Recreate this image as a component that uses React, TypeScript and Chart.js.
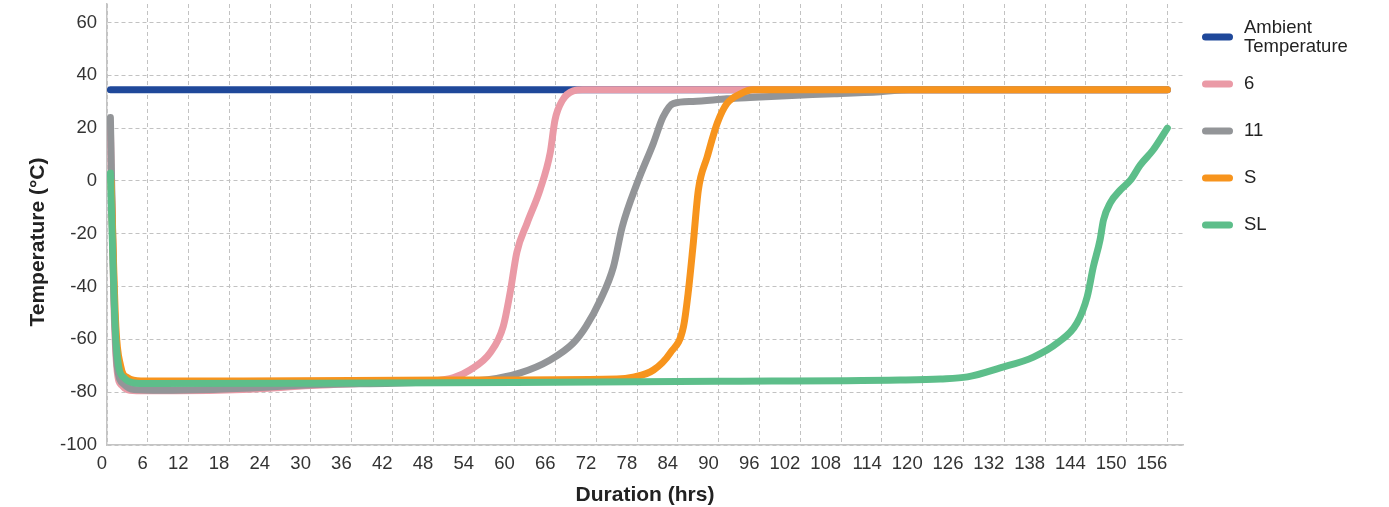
import React, { useEffect, useRef } from 'react';
import { Chart, registerables } from 'chart.js';

Chart.register(...registerables);

const FONT = '"Liberation Sans", Arial, Helvetica, sans-serif';

// ---- Axis ticks ----
const xTickValues = [0, 6, 12, 18, 24, 30, 36, 42, 48, 54, 60, 66, 72, 78, 84, 90, 96, 102, 108, 114, 120, 126, 132, 138, 144, 150, 156];
const yTickValues = [-100, -80, -60, -40, -20, 0, 20, 40, 60];
const xTitle = 'Duration (hrs)';
const yTitle = 'Temperature (°C)';

// ---- Series ----
const seriesNames = [['Ambient', 'Temperature'], ['6'], ['11'], ['S'], ['SL']];
const seriesColors = ['#1F489A', '#EA9AA6', '#939598', '#F7941D', '#5DBE8A'];

const ambientHours = [0.5, 156];
const ambientTemps = [34.5, 34.5];

const s6Hours = [0.5, 1.0, 1.5, 2.2, 3, 5, 10, 20, 30, 40, 48, 51, 53.4, 56.4, 58.3, 59.3, 60.3, 61.8, 63.7, 65.2, 65.9, 67, 68.6, 70, 156];
const s6Temps = [20, -45, -72, -77.5, -79, -79.5, -79.5, -79, -77.5, -76.5, -75.8, -74.5, -71.6, -65, -55, -42.4, -27, -16, -3.4, 10.6, 23, 30.5, 34.1, 34.5, 34.5];

const s11Hours = [0.5, 1.0, 1.5, 2.5, 4, 8, 15, 24, 30, 42, 50, 56, 60.8, 65.2, 68.6, 70.5, 72.6, 74.5, 75.8, 78, 80.4, 81.8, 83.3, 86.2, 91.2, 94.6, 100, 107, 113.8, 118, 156];
const s11Temps = [24, -40, -70, -77, -79, -79.3, -79, -78, -77.2, -76.6, -76, -75.3, -72.7, -67.8, -61.4, -55, -45, -32.6, -17.4, -0.8, 14.4, 24.2, 29.3, 30.1, 31.1, 31.6, 32.3, 33, 33.8, 34.5, 34.5];

const sHours = [0.6, 1.3, 2, 3, 5, 20, 50, 75, 77.4, 80.4, 82.9, 84.8, 85.5, 86.2, 87, 88.3, 89.8, 91.2, 93.2, 95, 156];
const sTemps = [0, -55, -70, -74.5, -75.8, -75.8, -75.4, -75, -74.3, -71.6, -65, -55.3, -42.4, -25, -3.4, 9.1, 22, 29.3, 33, 34.5, 34.5];

const slHours = [0.5, 1.2, 1.7, 2.5, 4, 6, 30, 60, 90, 116.7, 122.6, 126.6, 131.4, 136.3, 139.8, 142.7, 144.2, 145.1, 146.1, 146.6, 147.6, 149.1, 150.6, 152, 153.9, 156];
const slTemps = [3, -55, -70, -74.5, -76.5, -76.7, -76.6, -76.3, -75.9, -75.4, -75, -74.2, -70.8, -66.7, -61.4, -53.8, -43.9, -32.6, -22.3, -14.8, -8.3, -3.4, 0.4, 6, 11.7, 20];

const seriesHours = [ambientHours, s6Hours, s11Hours, sHours, slHours];
const seriesTemps = [ambientTemps, s6Temps, s11Temps, sTemps, slTemps];

const toPoints = (xs: number[], ys: number[]) => xs.map((x, i) => ({ x, y: ys[i] }));

const customPlugin = {
  id: 'customDecor',
  afterDraw(chart: any) {
    const ctx = chart.ctx;
    const area = chart.chartArea;
    ctx.save();
    // axis titles
    ctx.fillStyle = '#222222';
    ctx.font = `bold 21px ${FONT}`;
    ctx.textAlign = 'center';
    ctx.textBaseline = 'middle';
    ctx.fillText(xTitle, (area.left + area.right) / 2, 495);
    ctx.save();
    ctx.translate(38, 242);
    ctx.rotate(-Math.PI / 2);
    ctx.fillText(yTitle, 0, 0);
    ctx.restore();

    // legend
    const swX0 = 1205.5;
    const swX1 = 1229.5;
    const textX = 1244;
    const rowTop = 37;
    const rowGap = 47;
    const lineGap = 19;
    ctx.font = `18.5px ${FONT}`;
    ctx.textAlign = 'left';
    seriesNames.forEach((lines, i) => {
      const y = rowTop + i * rowGap;
      ctx.strokeStyle = seriesColors[i];
      ctx.lineWidth = 7;
      ctx.lineCap = 'round';
      ctx.beginPath();
      ctx.moveTo(swX0, y);
      ctx.lineTo(swX1, y);
      ctx.stroke();
      ctx.fillStyle = '#222222';
      const startY = y - ((lines.length - 1) * lineGap) / 2;
      lines.forEach((t, j) => ctx.fillText(t, textX, startY + j * lineGap));
    });
    ctx.restore();
  },
};

export default function App() {
  const canvasRef = useRef<HTMLCanvasElement | null>(null);

  useEffect(() => {
    document.body.style.margin = '0';
    const canvas = canvasRef.current;
    if (!canvas) return;
    const datasets = seriesNames.map((name, i) => ({
      label: name.join(' '),
      data: toPoints(seriesHours[i], seriesTemps[i]),
      borderColor: seriesColors[i],
      backgroundColor: seriesColors[i],
      borderWidth: 7,
      pointRadius: 0,
      pointHoverRadius: 0,
      fill: false,
      borderCapStyle: 'round' as const,
      borderJoinStyle: 'round' as const,
      cubicInterpolationMode: 'monotone' as const,
      order: seriesNames.length - i,
    }));

    const gridStyle = {
      color: '#C2C2C2',
      lineWidth: 1,
      drawTicks: false,
    };

    const chart = new Chart(canvas, {
      type: 'line',
      data: { datasets },
      plugins: [customPlugin],
      options: {
        animation: false,
        responsive: false,
        maintainAspectRatio: false,
        devicePixelRatio: 1,
        layout: { padding: { top: 4, right: 206, bottom: 0, left: 0 } },
        plugins: {
          legend: { display: false },
          tooltip: { enabled: false },
          title: { display: false },
        },
        scales: {
          x: {
            type: 'linear',
            min: 0,
            max: 158.3,
            afterBuildTicks: (axis: any) => {
              axis.ticks = xTickValues.map((v) => ({ value: v }));
            },
            afterFit: (scale: any) => {
              scale.height = 62;
              scale.paddingLeft = 0;
              scale.paddingRight = 0;
            },
            ticks: {
              align: 'end',
              autoSkip: false,
              maxRotation: 0,
              minRotation: 0,
              padding: 8,
              color: '#333333',
              font: { family: FONT, size: 18.5 },
            },
            grid: gridStyle,
            border: { display: true, color: '#C4C4C4', width: 1.5, dash: [4, 3] },
          } as any,
          y: {
            type: 'linear',
            min: -100,
            max: 67,
            afterBuildTicks: (axis: any) => {
              axis.ticks = yTickValues.map((v) => ({ value: v }));
            },
            afterFit: (scale: any) => {
              scale.width = 107;
              scale.paddingTop = 0;
              scale.paddingBottom = 0;
            },
            ticks: {
              padding: 10,
              color: '#333333',
              font: { family: FONT, size: 18.5 },
            },
            grid: gridStyle,
            border: { display: true, color: '#C4C4C4', width: 1.5, dash: [4, 3] },
          } as any,
        },
      } as any,
    });

    return () => chart.destroy();
  }, []);

  return (
    <div style={{ width: 1389, height: 507, position: 'relative', background: '#ffffff' }}>
      <canvas ref={canvasRef} width={1389} height={507} style={{ display: 'block' }} />
    </div>
  );
}
